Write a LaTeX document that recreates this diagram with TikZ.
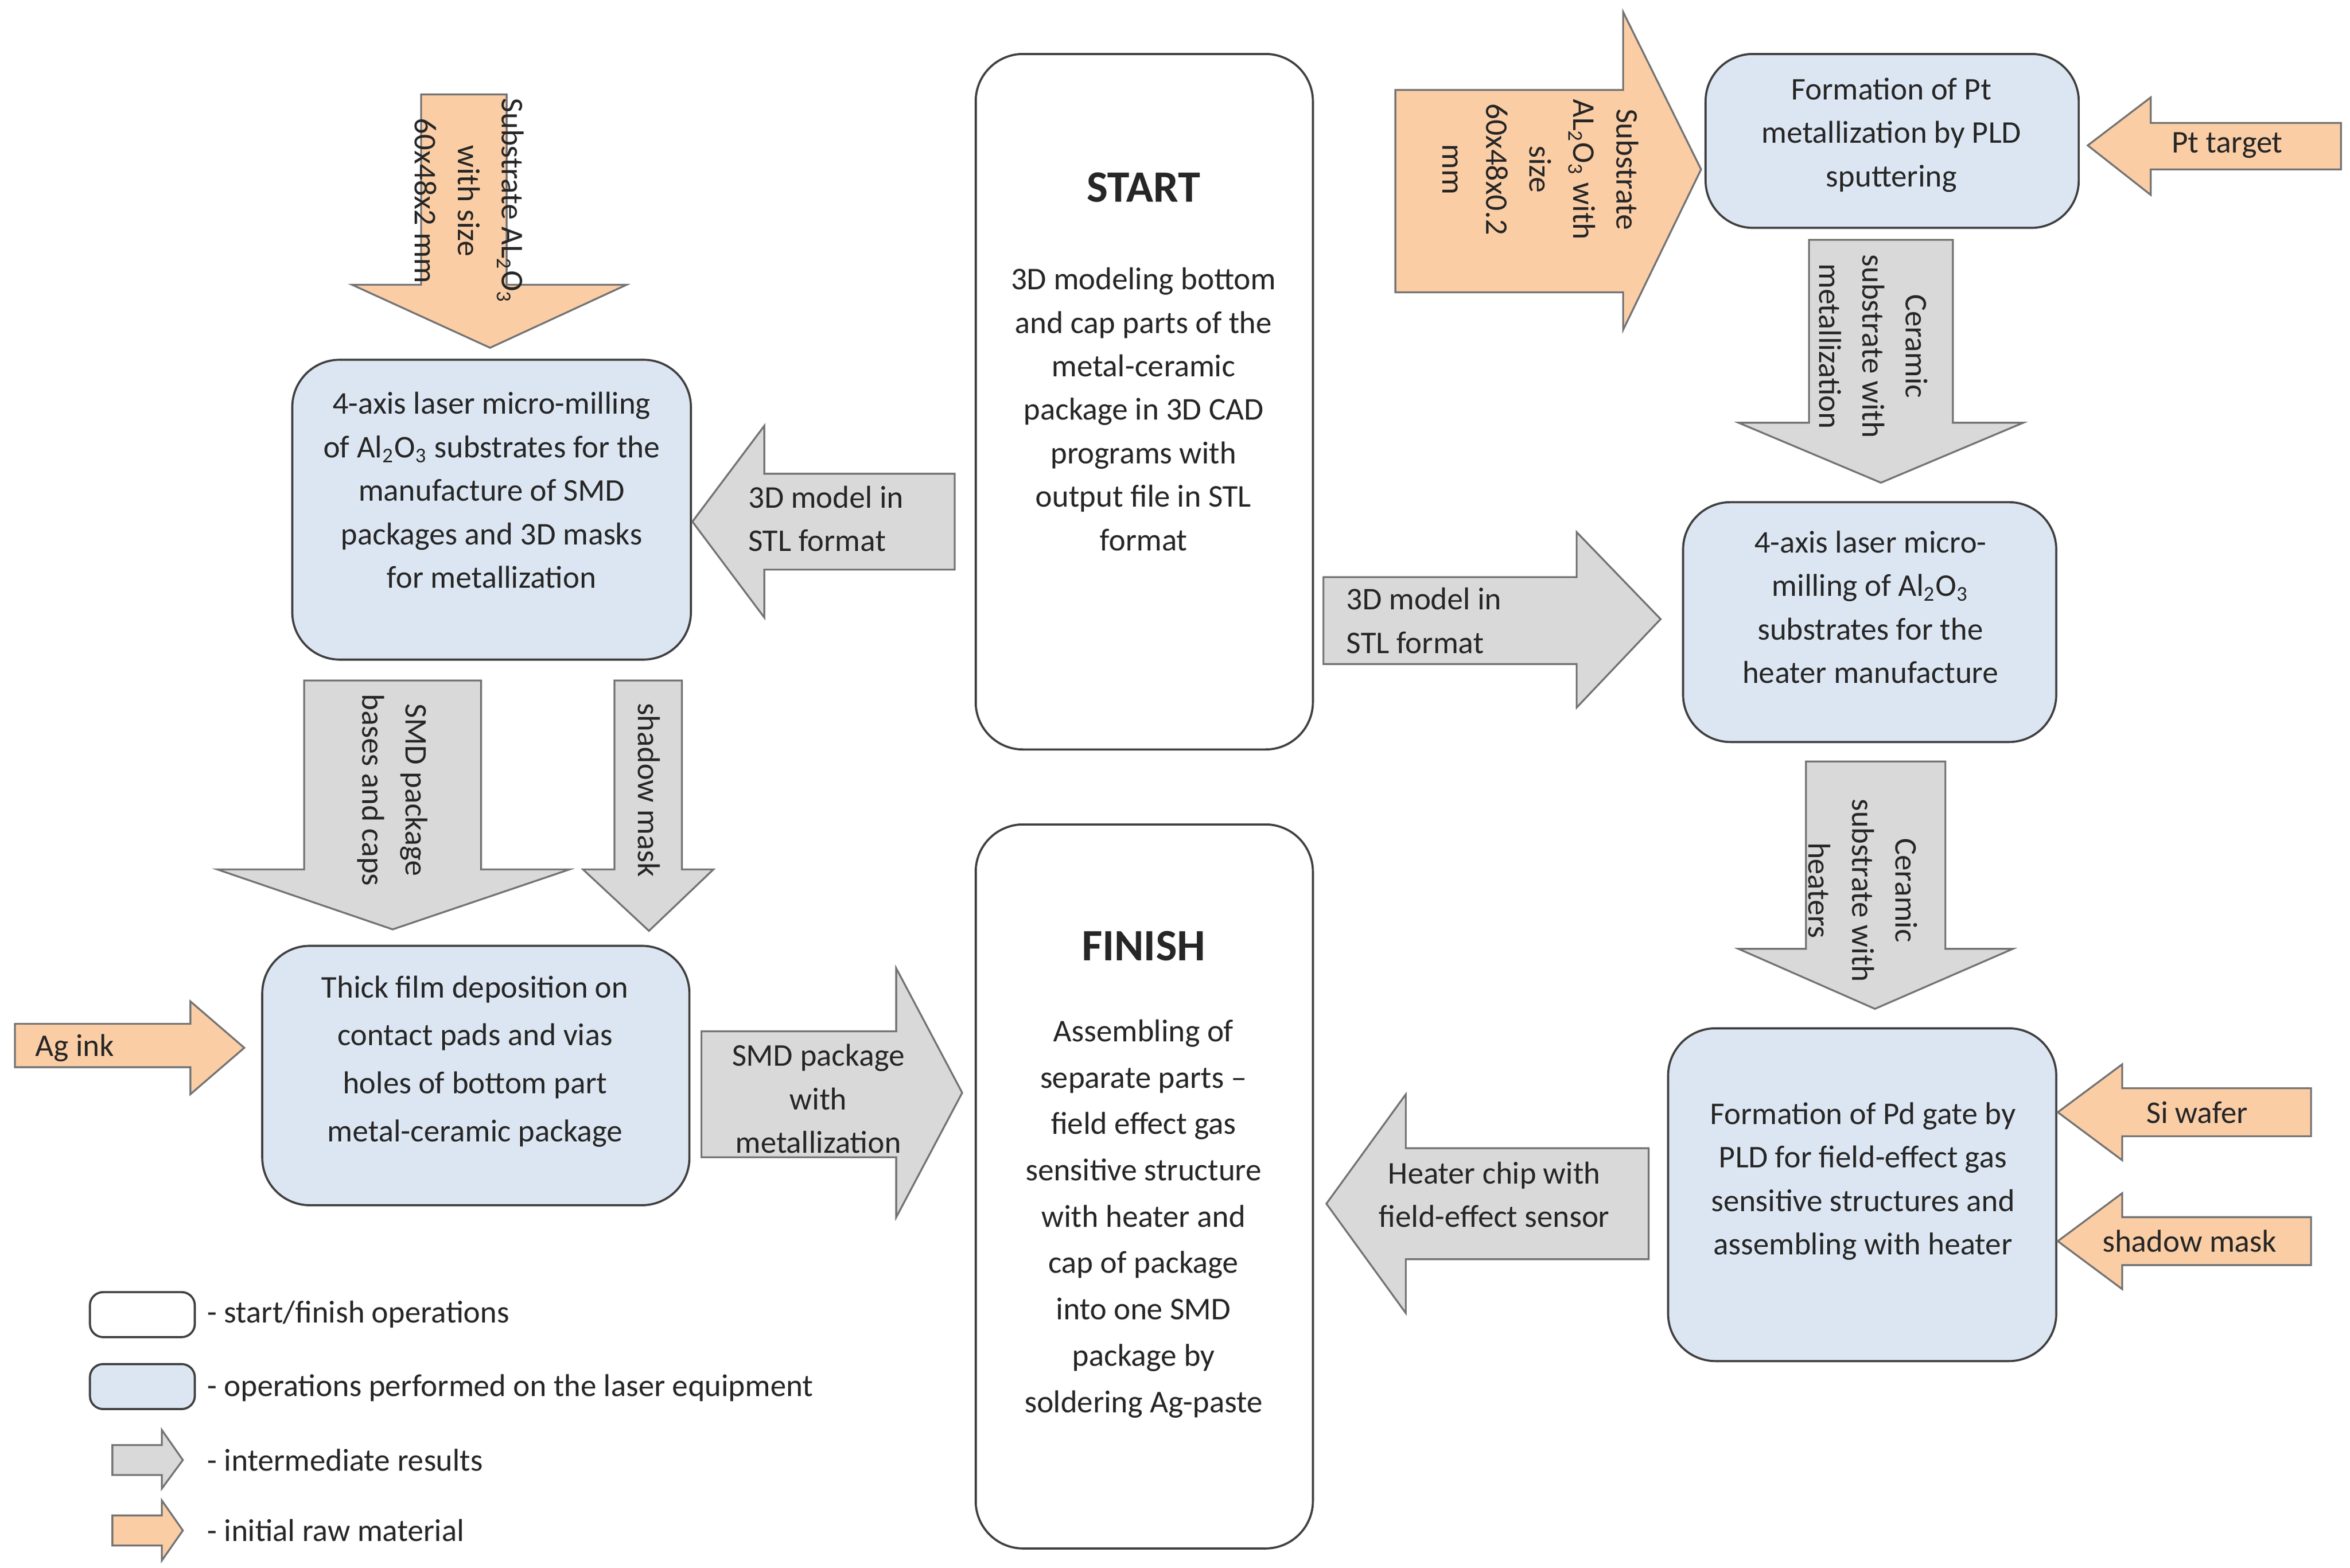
\documentclass[tikz,border=0pt]{standalone}
\usepackage{fontspec}
\setmainfont{Carlito}
\newcommand\sbs[1]{\textsubscript{#1}}
\begin{document}
\begin{tikzpicture}[x=0.02cm,y=-0.02cm,
 every node/.style={font=\fontsize{12}{16.5}\selectfont,align=center,text=black!85},
 box/.style={draw=black!75,line width=0.8pt,rounded corners=18pt},
 blue/.style={box,fill={rgb,255:red,220;green,230;blue,242}},
 white/.style={box,fill=white},
 garrow/.style={draw=black!55,line width=0.7pt,fill={rgb,255:red,217;green,217;blue,217}},
 oarrow/.style={draw=black!55,line width=0.7pt,fill={rgb,255:red,251;green,205;blue,165}},
 lab/.style={inner sep=0pt}]
\useasboundingbox (0,0) rectangle (1568,1046);
% boxes
\draw[white] (651,36) rectangle (876,500);
\node[lab,font=\fontsize{17}{20}\selectfont\bfseries] (st) at (763,125) {START};
\node[lab] (stt) at (763,273) {3D modeling bottom\\and cap parts of the\\metal-ceramic\\package in 3D CAD\\programs with\\output file in STL\\format};
\draw[white] (651,550) rectangle (876,1033);
\node[lab,font=\fontsize{17}{20}\selectfont\bfseries] (fi) at (763,631) {FINISH};
\node[lab,font=\fontsize{12}{17.6}\selectfont] (fit) at (763,813) {Assembling of\\separate parts --\\field effect gas\\sensitive structure\\with heater and\\cap of package\\into one SMD\\package by\\soldering Ag-paste};
\draw[blue] (195,240) rectangle (461,440);
\node[lab] (a) at (328,327) {4-axis laser micro-milling\\of Al\sbs{2}O\sbs{3} substrates for the\\manufacture of SMD\\packages and 3D masks\\for metallization};
\draw[blue] (1138,36) rectangle (1387,152);
\node[lab] (b) at (1262,90) {Formation of Pt\\metallization by PLD\\sputtering};
\draw[blue] (1123,335) rectangle (1372,495);
\node[lab] (c) at (1248,405) {4-axis laser micro-\\milling of Al\sbs{2}O\sbs{3}\\substrates for the\\heater manufacture};
\draw[blue] (175,631) rectangle (460,804);
\node[lab,font=\fontsize{12}{18.2}\selectfont] (d) at (317,708) {Thick film deposition on\\contact pads and vias\\holes of bottom part\\metal-ceramic package};
\draw[blue] (1113,686) rectangle (1372,908);
\node[lab] (e) at (1243,788) {Formation of Pd gate by\\PLD for field-effect gas\\sensitive structures and\\assembling with heater};
% arrows
\draw[oarrow] (281,63)--(338,63)--(338,190)--(418,190)--(327,232)--(235,190)--(281,190)--cycle;
\node[lab,rotate=-90] (o1) at (313,134) {Substrate AL\sbs{2}O\sbs{3}\\with size\\60x48x2 mm};
\draw[oarrow] (931,60)--(1083,60)--(1083,8)--(1135,113)--(1083,220)--(1083,195)--(931,195)--cycle;
\node[lab,rotate=-90] (o2) at (1028,113) {Substrate\\AL\sbs{2}O\sbs{3} with\\size\\60x48x0.2\\mm};
\draw[oarrow] (1562,82)--(1435,82)--(1435,65)--(1393,97)--(1435,130)--(1435,113)--(1562,113)--cycle;
\node[lab] (pt) at (1486,97) {Pt target};
\draw[garrow] (1207,160)--(1303,160)--(1303,282)--(1350,282)--(1255,322)--(1160,282)--(1207,282)--cycle;
\node[lab,rotate=-90] (g1) at (1250,231) {Ceramic\\substrate with\\metallization};
\draw[garrow] (637,316)--(510,316)--(510,284)--(462,348)--(510,412)--(510,380)--(637,380)--cycle;
\node[lab,align=left,anchor=west] (g2) at (499,346) {3D model in\\STL format};
\draw[garrow] (883,385)--(1052,385)--(1052,355)--(1108,413)--(1052,472)--(1052,443)--(883,443)--cycle;
\node[lab,align=left,anchor=west] (g3) at (898,414) {3D model in\\STL format};
\draw[garrow] (203,454)--(321,454)--(321,580)--(380,580)--(262,620)--(145,580)--(203,580)--cycle;
\node[lab,rotate=-90] (g4) at (262,527) {SMD package\\bases and caps};
\draw[garrow] (410,454)--(455,454)--(455,580)--(476,580)--(433,621)--(389,580)--(410,580)--cycle;
\node[lab,rotate=-90] (g5) at (433,527) {shadow mask};
\draw[garrow] (1205,508)--(1298,508)--(1298,633)--(1343,633)--(1251,673)--(1160,633)--(1205,633)--cycle;
\node[lab,rotate=-90] (g6) at (1243,594) {Ceramic\\substrate with\\heaters};
\draw[oarrow] (10,683)--(127,683)--(127,668)--(163,699)--(127,730)--(127,712)--(10,712)--cycle;
\node[lab] (ag) at (50,699) {Ag ink};
\draw[garrow] (468,688)--(598,688)--(598,646)--(642,729)--(598,812)--(598,772)--(468,772)--cycle;
\node[lab] (g7) at (546,733) {SMD package\\with\\metallization};
\draw[garrow] (1100,766)--(938,766)--(938,730)--(885,803)--(938,876)--(938,840)--(1100,840)--cycle;
\node[lab] (g8) at (997,797) {Heater chip with\\field-effect sensor};
\draw[oarrow] (1542,726)--(1416,726)--(1416,710)--(1373,742)--(1416,774)--(1416,758)--(1542,758)--cycle;
\node[lab] (si) at (1466,742) {Si wafer};
\draw[oarrow] (1542,812)--(1416,812)--(1416,796)--(1373,828)--(1416,860)--(1416,844)--(1542,844)--cycle;
\node[lab] (sm) at (1461,828) {shadow mask};
% legend
\draw[white,rounded corners=5pt] (60,862) rectangle (130,892);
\node[lab,anchor=west] (l1) at (138,877) {- start/finish operations};
\draw[blue,rounded corners=5pt] (60,910) rectangle (130,940);
\node[lab,anchor=west] (l2) at (138,926) {- operations performed on the laser equipment};
\draw[garrow] (75,964)--(108,964)--(108,954)--(122,974)--(108,993)--(108,984)--(75,984)--cycle;
\node[lab,anchor=west] (l3) at (138,974) {- intermediate results};
\draw[oarrow] (75,1011)--(108,1011)--(108,1001)--(122,1021)--(108,1041)--(108,1031)--(75,1031)--cycle;
\node[lab,anchor=west] (l4) at (138,1021) {- initial raw material};
\end{tikzpicture}
\end{document}
